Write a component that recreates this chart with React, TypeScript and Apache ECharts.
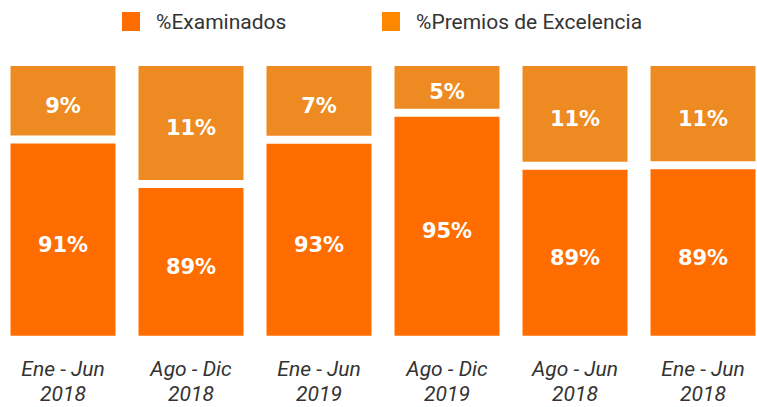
import React, { useEffect, useRef } from "react";
import * as echarts from "echarts";

const categories = [
  "Ene - Jun\n2018",
  "Ago - Dic\n2018",
  "Ene - Jun\n2019",
  "Ago - Dic\n2019",
  "Ago - Jun\n2018",
  "Ene - Jun\n2018",
];
const examinadosLabels = ["91%", "89%", "93%", "95%", "89%", "89%"];
const premiosLabels = ["9%", "11%", "7%", "5%", "11%", "11%"];
const examinadosValues = [72.1, 56.1, 72.0, 81.7, 62.6, 62.8];
const premiosValues = [27.9, 43.9, 28.0, 18.3, 37.4, 37.2];

const seriesNames = ["%Examinados", "%Premios de Excelencia"];
const barColors = ["#FF6D00", "#EE8A22"];
const legendColors = ["#FF6D00", "#FF8800"];

export default function App() {
  const ref = useRef<HTMLDivElement>(null);
  useEffect(() => {
    if (!ref.current) return;
    const chart = echarts.init(ref.current, undefined, { renderer: "svg" });
    const labelStyle = {
      show: true,
      position: "inside",
      color: "#ffffff",
      fontFamily: "DejaVu Sans",
      fontWeight: "bold",
      fontSize: 21,
      offset: [0, 5],
    };
    const legendLefts = [115, 375];
    chart.setOption({
      animation: false,
      legend: seriesNames.map((n, i) => ({
        left: legendLefts[i],
        top: 5,
        itemWidth: 20,
        itemHeight: 21,
        icon: "rect",
        textStyle: { fontFamily: "Roboto", fontSize: 21, color: "#333333", padding: [0, 0, 0, 10] },
        data: [{ name: n, itemStyle: { color: legendColors[i] } }],
      })),
      grid: { left: -1, width: 768, top: 62, bottom: 67.3, outerBoundsMode: "none", containLabel: false },
      xAxis: {
        type: "category",
        data: categories,
        axisLine: { show: false },
        axisTick: { show: false },
        axisLabel: {
          margin: 17,
          fontFamily: "Roboto",
          fontStyle: "italic",
          fontSize: 21,
          lineHeight: 25,
          color: "#333333",
        },
      },
      yAxis: { type: "value", min: 0, max: 100, show: false, splitLine: { show: false } },
      series: [
        {
          name: seriesNames[0],
          type: "bar",
          stack: "total",
          barWidth: 113,
          data: examinadosValues,
          itemStyle: { color: barColors[0], borderColor: "#ffffff", borderWidth: 4 },
          label: { ...labelStyle, formatter: (p: any) => examinadosLabels[p.dataIndex] },
        },
        {
          name: seriesNames[1],
          type: "bar",
          stack: "total",
          barWidth: 113,
          data: premiosValues,
          itemStyle: { color: barColors[1], borderColor: "#ffffff", borderWidth: 4 },
          label: { ...labelStyle, formatter: (p: any) => premiosLabels[p.dataIndex] },
        },
      ],
    });
    return () => chart.dispose();
  }, []);
  return <div ref={ref} style={{ width: 757, height: 407, position: "absolute", left: 0, top: 0 }} />;
}
